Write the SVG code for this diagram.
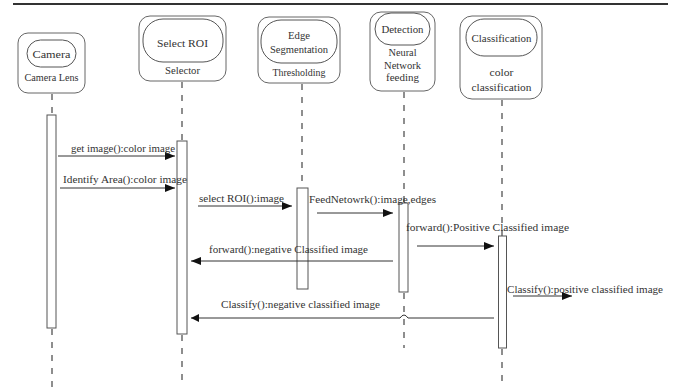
<svg xmlns="http://www.w3.org/2000/svg" width="677" height="387" viewBox="0 0 677 387" font-family="Liberation Serif">
<style>
  text { font-family: 'Liberation Serif', serif; fill: #333; }
  .t { font-size: 11px; text-anchor: middle; }
  .m { font-size: 11px; }
  .box { fill: #fff; stroke: #666; stroke-width: 1; }
  .inner { fill: #fff; stroke: #555; stroke-width: 1; }
  .life { stroke: #444; stroke-width: 1.2; stroke-dasharray: 6 7; fill: none; }
  .act { fill: #fff; stroke: #555; stroke-width: 1; }
  .msg { stroke: #333; stroke-width: 1; fill: none; }
</style>
<defs>
  <marker id="ah" viewBox="0 0 10 8" refX="10" refY="4" markerWidth="10" markerHeight="8" markerUnits="userSpaceOnUse" orient="auto">
    <path d="M0,0 L10,4 L0,8 z" fill="#111"/>
  </marker>
</defs>
<rect width="677" height="387" fill="#fff"/>
<line x1="13" y1="4" x2="668" y2="4" stroke="#333" stroke-width="2"/>

<g id="lifelines">
  <line class="life" x1="52" y1="94" x2="52" y2="115"/>
  <line class="life" x1="52" y1="329" x2="52" y2="387"/>
  <line class="life" x1="182" y1="82" x2="182" y2="141"/>
  <line class="life" x1="182" y1="335" x2="182" y2="387"/>
  <line class="life" x1="302" y1="84" x2="302" y2="188"/>
  <line class="life" x1="404" y1="92" x2="404" y2="203"/>
  <line class="life" x1="404" y1="293" x2="404" y2="348"/>
  <line class="life" x1="502" y1="100" x2="502" y2="236"/>
  <line class="life" x1="502" y1="349" x2="502" y2="387"/>
</g>

<g id="camera" font-family="Liberation Serif">
  <rect class="box" x="18" y="33" width="67" height="60" rx="10"/>
  <rect class="inner" x="27" y="40" width="49" height="27" rx="13.5"/>
  <text class="t" x="51.5" y="58" textLength="38" lengthAdjust="spacingAndGlyphs">Camera</text>
  <text class="t" x="51.5" y="80.5" textLength="54" lengthAdjust="spacingAndGlyphs">Camera Lens</text>
  <rect class="act" x="47" y="115" width="9" height="213"/>
</g>

<g id="selector" font-family="Liberation Serif">
  <rect class="box" x="139" y="16" width="87" height="65" rx="11"/>
  <rect class="inner" x="143" y="19" width="80" height="43" rx="20"/>
  <text class="t" x="182.5" y="46.5" textLength="51" lengthAdjust="spacingAndGlyphs">Select ROI</text>
  <text class="t" x="182.5" y="74" textLength="35" lengthAdjust="spacingAndGlyphs">Selector</text>
  <rect class="act" x="177" y="141" width="10" height="193"/>
</g>

<g id="edge" font-family="Liberation Serif">
  <rect class="box" x="258" y="17" width="82" height="66" rx="11"/>
  <rect class="inner" x="261" y="20" width="76" height="43" rx="20"/>
  <text class="t" x="299" y="38.5" textLength="22" lengthAdjust="spacingAndGlyphs">Edge</text>
  <text class="t" x="299" y="53" textLength="58" lengthAdjust="spacingAndGlyphs">Segmentation</text>
  <text class="t" x="299" y="75.5" textLength="53" lengthAdjust="spacingAndGlyphs">Thresholding</text>
  <rect class="act" x="297" y="188" width="11" height="101"/>
</g>

<g id="detection" font-family="Liberation Serif">
  <rect class="box" x="370" y="12" width="65" height="79" rx="11"/>
  <rect class="inner" x="375" y="13" width="55" height="32" rx="16"/>
  <text class="t" x="402.5" y="32.5" textLength="42" lengthAdjust="spacingAndGlyphs">Detection</text>
  <text class="t" x="402.5" y="55.5" textLength="28" lengthAdjust="spacingAndGlyphs">Neural</text>
  <text class="t" x="402.5" y="68.5" textLength="37" lengthAdjust="spacingAndGlyphs">Network</text>
  <text class="t" x="402.5" y="81" textLength="33" lengthAdjust="spacingAndGlyphs">feeding</text>
  <rect class="act" x="399" y="203" width="9" height="89"/>
</g>

<g id="classification" font-family="Liberation Serif">
  <rect class="box" x="460" y="16" width="82" height="83" rx="12"/>
  <rect class="inner" x="466" y="19" width="71" height="37" rx="18"/>
  <text class="t" x="501.5" y="42" textLength="60" lengthAdjust="spacingAndGlyphs">Classification</text>
  <text class="t" x="501.5" y="75.5" textLength="24" lengthAdjust="spacingAndGlyphs">color</text>
  <text class="t" x="501.5" y="91" textLength="60" lengthAdjust="spacingAndGlyphs">classification</text>
  <rect class="act" x="498.5" y="236" width="8" height="112"/>
</g>

<g id="connectors" font-family="Liberation Serif">
  <line class="msg" x1="58" y1="156" x2="175" y2="156" marker-end="url(#ah)"/>
  <text class="m" x="71" y="152" textLength="104" lengthAdjust="spacingAndGlyphs">get image():color image</text>

  <line class="msg" x1="60" y1="188" x2="175" y2="188" marker-end="url(#ah)"/>
  <text class="m" x="63" y="183" textLength="124" lengthAdjust="spacingAndGlyphs">Identify Area():color image</text>

  <line class="msg" x1="198" y1="206" x2="292" y2="206" marker-end="url(#ah)"/>
  <text class="m" x="199" y="202" textLength="85" lengthAdjust="spacingAndGlyphs">select ROI():image</text>

  <line class="msg" x1="317" y1="213" x2="393" y2="213" marker-end="url(#ah)"/>
  <text class="m" x="309" y="202.5" textLength="127" lengthAdjust="spacingAndGlyphs">FeedNetowrk():image,edges</text>

  <line class="msg" x1="417" y1="246" x2="494" y2="246" marker-end="url(#ah)"/>
  <text class="m" x="406" y="231" textLength="163" lengthAdjust="spacingAndGlyphs">forward():Positive Classified image</text>

  <line class="msg" x1="393" y1="261" x2="191" y2="261" marker-end="url(#ah)"/>
  <text class="m" x="209" y="253" textLength="159" lengthAdjust="spacingAndGlyphs">forward():negative Classified image</text>

  <line class="msg" x1="513" y1="296" x2="572" y2="296" marker-end="url(#ah)"/>
  <text class="m" x="507" y="293" textLength="156" lengthAdjust="spacingAndGlyphs">Classify():positive classified image</text>

  <path class="msg" d="M494,318 L408,318 Q404,312 400,318 L191,318"/>
  <path d="M199,314 L191,318 L199,322 z" fill="#111"/>
  <text class="m" x="221" y="308" textLength="159" lengthAdjust="spacingAndGlyphs">Classify():negative classified image</text>
</g>
</svg>
